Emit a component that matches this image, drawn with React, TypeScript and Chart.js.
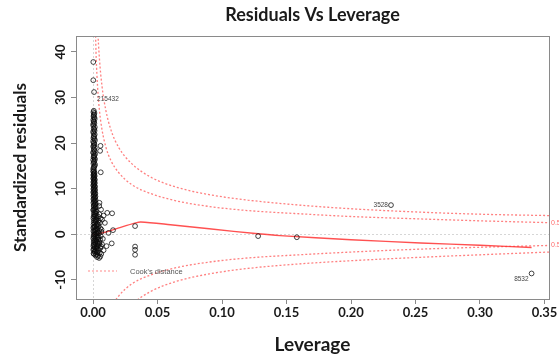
import React, { useEffect, useRef } from "react";
import { Chart, registerables } from "chart.js";

Chart.register(...registerables);

// ---- axis setup ----
const xTickValues = [0, 0.05, 0.1, 0.15, 0.2, 0.25, 0.3, 0.35];
const yTickValues = [-10, 0, 10, 20, 30, 40];
const xRange = [-0.0132, 0.3535];
const yRange = [-14.2, 43.5];

// ---- observations: [leverage, standardized residual] ----
const pointsDense = [
  [0.0004, -4.2], [0.0012, -3.9], [0.0022, -3.6], [0.0006, -3.3], [0.0016, -3.0], [0.0028, -2.8],
  [0.0003, -2.6], [0.001, -2.3], [0.002, -2.1], [0.0034, -1.9], [0.0005, -1.7], [0.0015, -1.5],
  [0.0025, -1.3], [0.004, -1.1], [0.0002, -0.9], [0.0009, -0.7], [0.0018, -0.5], [0.003, -0.3],
  [0.0006, -0.1], [0.0014, 0.1], [0.0024, 0.3], [0.0036, 0.5], [0.0003, 0.7], [0.0011, 0.9],
  [0.0021, 1.1], [0.0032, 1.3], [0.0007, 1.5], [0.0016, 1.7], [0.0027, 1.9], [0.0004, 2.1],
  [0.0013, 2.4], [0.0023, 2.7], [0.0008, 3.0], [0.0018, 3.3], [0.003, 3.6], [0.0005, 3.9],
  [0.0014, 4.2], [0.0024, 4.5], [0.0009, 4.8], [0.0019, 5.1], [0.0004, 5.4], [0.0013, 5.7],
  [0.0022, 6.0], [0.0007, 6.3], [0.0016, 6.6], [0.0003, 6.9], [0.0011, 7.2], [0.002, 7.5],
  [0.0006, 7.8], [0.0015, 8.1], [0.0003, 8.4], [0.001, 8.7], [0.0018, 9.0], [0.0005, 9.3],
  [0.0013, 9.6], [0.0003, 9.9], [0.0009, 10.2], [0.0016, 10.5], [0.0004, 10.8], [0.0011, 11.1],
  [0.0003, 11.4], [0.0008, 11.7], [0.0014, 12.0], [0.0004, 12.3], [0.001, 12.6], [0.0003, 12.9],
  [0.0007, 13.2], [0.0012, 13.5], [0.0004, 13.8], [0.0008, 14.1],
  [0.0035, -3.2], [0.0045, -2.4], [0.0042, -0.6], [0.0048, 0.8], [0.0038, 2.2], [0.0044, 3.0],
  [0.005, -1.8], [0.0026, -4.4], [0.0036, -4.0],
];
const pointsDense2 = [
  [0.0019, -4.6], [0.0007, -4.3], [0.0029, -4.0], [0.0013, -3.7], [0.0002, -3.4], [0.0024, -3.1],
  [0.001, -2.8], [0.0033, -2.5], [0.0005, -2.2], [0.0017, -1.9], [0.0028, -1.6], [0.0008, -1.3],
  [0.0021, -1.0], [0.0035, -0.7], [0.0004, -0.4], [0.0015, -0.1], [0.0027, 0.2], [0.0009, 0.5],
  [0.0019, 0.8], [0.0031, 1.1], [0.0002, 1.4], [0.0012, 1.7], [0.0022, 2.0], [0.0034, 2.3],
  [0.0006, 2.6], [0.0017, 2.9], [0.0026, 3.2], [0.0003, 3.5], [0.0012, 3.8], [0.0021, 4.1],
  [0.0007, 4.4], [0.0016, 4.7], [0.0026, 5.0], [0.0002, 5.3], [0.001, 5.6], [0.0018, 5.9],
  [0.0005, 6.2], [0.0013, 6.5], [0.0021, 6.8], [0.0008, 7.1], [0.0015, 7.4], [0.0003, 7.7],
  [0.0011, 8.0], [0.0019, 8.3], [0.0006, 8.6], [0.0013, 8.9], [0.0002, 9.2], [0.0009, 9.5],
  [0.0016, 9.8], [0.0005, 10.1], [0.0012, 10.4], [0.0002, 10.7], [0.0008, 11.0], [0.0014, 11.3],
  [0.0005, 11.6], [0.0011, 11.9], [0.0002, 12.2], [0.0007, 12.5], [0.0013, 12.8], [0.0004, 13.1],
  [0.0009, 13.4], [0.0002, 13.7],
];
const pointsBase = [
  [0.0052, -4.1], [0.0041, -3.5], [0.0058, -3.0], [0.0047, -2.0], [0.0055, -1.2], [0.006, -0.4],
  [0.0046, 0.2], [0.0057, 1.3], [0.0043, 1.8], [0.0053, 2.5], [0.0039, 3.9], [0.0049, 4.4],
  [0.0039, -4.7], [0.0031, -5.0], [0.0047, -5.2], [0.0062, -2.6], [0.0065, 0.5], [0.0059, 3.5],
];
const pointsUpper = [
  [0.0005, 14.6], [0.0012, 15.0], [0.0003, 15.5], [0.0009, 16.0], [0.0015, 16.4], [0.0004, 16.9],
  [0.001, 17.3], [0.0003, 17.8], [0.0013, 18.2], [0.0006, 18.7], [0.0002, 19.2], [0.0011, 19.6],
  [0.0005, 20.1], [0.0015, 20.6], [0.0003, 21.1], [0.0008, 21.6], [0.0004, 22.2], [0.0012, 22.7],
  [0.0006, 23.2], [0.0003, 23.8], [0.001, 24.3], [0.0005, 24.8], [0.0013, 25.3], [0.0004, 25.8],
  [0.0008, 26.3], [0.0003, 26.8], [0.0002, 37.8], [0.0002, 33.8], [0.0008, 31.2],
];
const pointsUpper2 = [
  [0.0001, 14.3], [0.0008, 14.8], [0.0016, 15.3], [0.0006, 15.8], [0.0001, 16.3], [0.0012, 16.7],
  [0.0007, 17.1], [0.0016, 17.6], [0.0001, 18.0], [0.0009, 18.5], [0.0014, 19.0], [0.0004, 19.4],
  [0.0009, 19.9], [0.0001, 20.4], [0.0011, 20.9], [0.0006, 21.4], [0.0013, 21.9], [0.0001, 22.5],
  [0.0009, 23.0], [0.0014, 23.5], [0.0001, 24.1], [0.0008, 24.6], [0.0002, 25.1], [0.001, 25.6],
  [0.0005, 26.1], [0.0011, 26.6], [0.0006, 27.1],
];
const pointsSpread = [
  [0.0058, 19.4], [0.0055, 18.3], [0.006, 13.6], [0.005, 6.9], [0.0048, 6.2], [0.0062, 5.4],
  [0.011, 4.7], [0.0082, 4.1], [0.007, 3.2], [0.0092, 2.5], [0.0148, 4.6], [0.0155, 0.9],
  [0.0145, -2.0], [0.0105, -2.6], [0.0082, -3.5], [0.0064, -4.3], [0.0056, -4.9], [0.012, 0.3],
  [0.0066, 1.0], [0.0076, -1.0], [0.007, -2.2],
];
const pointsFar = [
  [0.0326, 1.8], [0.0326, -2.7], [0.0326, -3.4], [0.0326, -4.5],
  [0.128, -0.4], [0.158, -0.65], [0.231, 6.4], [0.34, -8.6],
];

// ---- labelled observations ----
const labelText = ["215432", "3528", "8532"];
const labelLev = [0.0008, 0.231, 0.34];
const labelRes = [31.2, 6.4, -8.6];

// ---- smoother (red) ----
const smoothLev = [0.0002, 0.004, 0.01, 0.02, 0.033, 0.037, 0.06, 0.09, 0.128, 0.145, 0.2, 0.254, 0.3, 0.34];
const smoothRes = [-0.1, 0.1, 0.5, 1.4, 2.5, 2.7, 2.1, 1.2, 0.1, -0.3, -1.2, -1.9, -2.4, -2.9];

// ---- Cook's distance contours ----
const cookLev = [0.0018, 0.0025, 0.0035, 0.005, 0.007, 0.01, 0.014, 0.02, 0.03, 0.045, 0.065, 0.09, 0.12, 0.16, 0.2, 0.25, 0.3, 0.3535];
const cookHalfUpper = [45.3, 38.4, 32.5, 27.1, 22.9, 19.1, 16.1, 13.5, 10.9, 8.9, 7.3, 6.1, 5.2, 4.5, 3.9, 3.4, 2.95, 2.55];
const cookOneUpper = [64, 54.3, 45.9, 38.4, 32.4, 27.1, 22.8, 19.0, 15.5, 12.5, 10.3, 8.7, 7.5, 6.4, 5.6, 4.9, 4.4, 4.1];
const cookHalfLower = [-45.3, -38.4, -32.5, -27.1, -22.9, -19.1, -16.1, -13.5, -10.9, -8.9, -7.3, -6.1, -5.2, -4.5, -3.9, -3.3, -2.85, -2.45];
const cookOneLower = [-64, -54.3, -45.9, -38.4, -32.4, -27.1, -22.8, -19.0, -15.5, -12.5, -10.3, -8.7, -7.5, -6.5, -5.8, -5.1, -4.5, -3.9];
const cookLevelLabels = ["0.5", "0.5"];

const FONT = "Lato";

const toXY = (pairs: number[][]) => pairs.map(([x, y]) => ({ x, y }));
const zip = (xs: number[], ys: number[]) => xs.map((x, i) => ({ x, y: ys[i] }));

const overlay = {
  id: "overlay",
  afterDatasetsDraw(chart: any) {
    const { ctx, chartArea: a, scales } = chart;
    const x = scales.x;
    const y = scales.y;
    ctx.save();
    // plot frame
    ctx.strokeStyle = "#8a8a8a";
    ctx.lineWidth = 1;
    ctx.setLineDash([]);
    ctx.strokeRect(Math.round(a.left) + 0.5, Math.round(a.top) + 0.5, Math.round(a.right - a.left), Math.round(a.bottom - a.top));

    // point labels
    ctx.font = `6.5px "Liberation Sans"`;
    ctx.fillStyle = "#444";
    ctx.textBaseline = "middle";
    labelText.forEach((t, i) => {
      const px = x.getPixelForValue(labelLev[i]);
      const py = y.getPixelForValue(labelRes[i]);
      if (labelLev[i] < 0.1) {
        ctx.textAlign = "left";
        ctx.fillText(t, px + 3, py + 7);
      } else {
        ctx.textAlign = "right";
        ctx.fillText(t, px - 3, py + (labelRes[i] < 0 ? 6 : 0));
      }
    });

    // legend
    ctx.strokeStyle = "rgba(255,90,90,0.7)";
    ctx.lineWidth = 1.2;
    ctx.setLineDash([2, 2]);
    ctx.beginPath();
    ctx.moveTo(a.left + 12, a.top + 235);
    ctx.lineTo(a.left + 41, a.top + 235);
    ctx.stroke();
    ctx.setLineDash([]);
    ctx.font = `7.5px "Liberation Sans"`;
    ctx.fillStyle = "#555";
    ctx.textAlign = "left";
    ctx.fillText("Cook's distance", a.left + 54, a.top + 236);

    // contour level labels at right margin
    ctx.font = `7px "Liberation Sans"`;
    ctx.fillStyle = "rgba(255,80,80,0.85)";
    ctx.fillText(cookLevelLabels[0], a.right + 2, y.getPixelForValue(cookHalfUpper[cookHalfUpper.length - 1]));
    ctx.fillText(cookLevelLabels[1], a.right + 2, y.getPixelForValue(cookHalfLower[cookHalfLower.length - 1]));
    ctx.restore();
  },
};

const pointStyle = {
  pointRadius: 2.4,
  pointBackgroundColor: "rgba(0,0,0,0)",
  pointBorderColor: "rgba(10,10,10,0.85)",
  pointBorderWidth: 0.9,
  showLine: false,
};

const curveStyle = {
  showLine: true,
  pointRadius: 0,
  borderColor: "rgba(255,85,85,0.75)",
  borderWidth: 1.3,
  borderDash: [2, 2],
  cubicInterpolationMode: "monotone",
  fill: false,
};

export default function App() {
  const ref = useRef<HTMLCanvasElement>(null);
  useEffect(() => {
    const tickFont = { family: FONT, size: 13, weight: "bold" as const };
    const chart = new Chart(ref.current as HTMLCanvasElement, {
      type: "scatter",
      data: {
        datasets: [
          { ...pointStyle, data: toXY(pointsDense) },
          { ...pointStyle, data: toXY(pointsDense2) },
          { ...pointStyle, data: toXY(pointsBase) },
          { ...pointStyle, data: toXY(pointsUpper) },
          { ...pointStyle, data: toXY(pointsUpper2) },
          { ...pointStyle, data: toXY(pointsSpread) },
          { ...pointStyle, data: toXY(pointsFar) },
          {
            showLine: true,
            pointRadius: 0,
            borderColor: "rgba(255,50,50,0.85)",
            borderWidth: 1.4,
            tension: 0.3,
            data: zip(smoothLev, smoothRes),
          },
          { ...curveStyle, data: zip(cookLev, cookHalfUpper) },
          { ...curveStyle, data: zip(cookLev, cookOneUpper) },
          { ...curveStyle, data: zip(cookLev, cookHalfLower) },
          { ...curveStyle, data: zip(cookLev, cookOneLower) },
        ] as any,
      },
      options: {
        responsive: false,
        animation: false,
        devicePixelRatio: 1,
        layout: { padding: { left: 0, right: 10, top: 0, bottom: 0 } },
        plugins: {
          legend: { display: false },
          tooltip: { enabled: false },
          title: {
            display: true,
            text: "Residuals Vs Leverage",
            fullSize: false,
            color: "#1a1a1a",
            font: { family: FONT, size: 18, weight: "bold" },
            padding: { top: 4.2, bottom: 10.2 },
          },
        },
        scales: {
          x: {
            type: "linear",
            min: xRange[0],
            max: xRange[1],
            afterBuildTicks: (s: any) => {
              s.ticks = xTickValues.map((value) => ({ value }));
            },
            afterFit: (s: any) => {
              s.height = 58;
            },
            ticks: {
              autoSkip: false,
              maxRotation: 0,
              padding: 1,
              color: "#1a1a1a",
              font: tickFont,
              callback: (v: any) => Number(v).toFixed(2),
            },
            grid: {
              drawOnChartArea: true,
              color: (c: any) => (c.tick && c.tick.value === 0 ? "#d6d6d6" : "rgba(0,0,0,0)"),
              tickColor: "#8a8a8a",
              tickLength: 5,
              lineWidth: 1,
            },
            border: { display: false, dash: [2, 2] },
            title: {
              display: true,
              text: "Leverage",
              color: "#1a1a1a",
              font: { family: FONT, size: 19, weight: "bold" },
              padding: { top: 0, bottom: 0.6 },
            },
          },
          y: {
            type: "linear",
            min: yRange[0],
            max: yRange[1],
            afterBuildTicks: (s: any) => {
              s.ticks = yTickValues.map((value) => ({ value }));
            },
            afterFit: (s: any) => {
              s.width = 76;
            },
            ticks: {
              autoSkip: false,
              minRotation: 90,
              maxRotation: 90,
              crossAlign: "center",
              padding: 0,
              color: "#1a1a1a",
              font: tickFont,
              callback: (v: any) => String(v),
            },
            grid: {
              drawOnChartArea: true,
              color: (c: any) => (c.tick && c.tick.value === 0 ? "#d6d6d6" : "rgba(0,0,0,0)"),
              tickColor: "#8a8a8a",
              tickLength: 5,
              lineWidth: 1,
            },
            border: { display: false, dash: [2, 2] },
            title: {
              display: true,
              text: "Standardized residuals",
              color: "#1a1a1a",
              font: { family: FONT, size: 17, weight: "bold" },
              padding: { top: 10.8, bottom: 0 },
            },
          },
        },
      },
      plugins: [overlay as any],
    });
    return () => chart.destroy();
  }, []);

  return (
    <div style={{ position: "fixed", left: 0, top: 0, width: 559, height: 357, background: "#fff" }}>
      <canvas ref={ref} width={559} height={357} style={{ display: "block", width: 559, height: 357 }} />
    </div>
  );
}
